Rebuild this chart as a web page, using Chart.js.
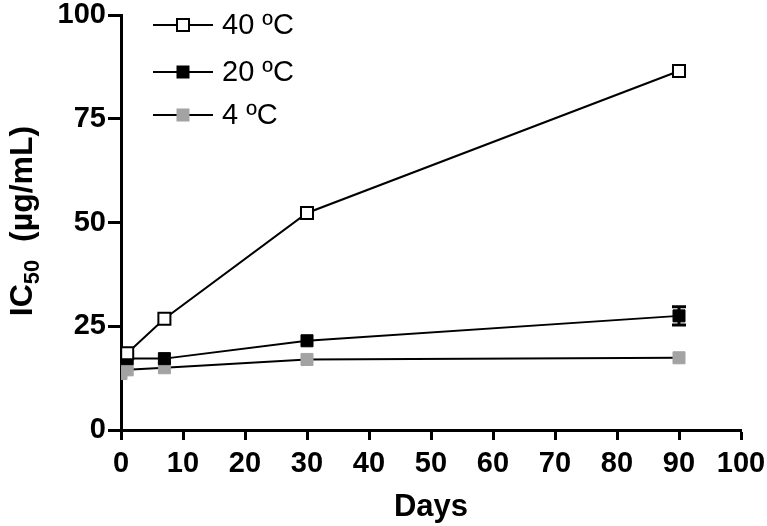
<!DOCTYPE html>
<html>
<head>
<meta charset="utf-8">
<script src="https://cdn.jsdelivr.net/npm/chart.js@4/dist/chart.umd.min.js"></script>
<style>
  html, body { margin: 0; padding: 0; background: #fff; }
  #wrap { width: 767px; height: 526px; }
</style>
</head>
<body>
<div id="wrap"><canvas id="chart" width="767" height="526"></canvas></div>
<script>
// Datos
const seriesNames = ["40 ºC", "20 ºC", "4 ºC"];
const days40 = [1, 7, 30, 90];
const ic40   = [18.5, 26.8, 52.3, 86.5];
const days20 = [1, 7, 30, 90];
const ic20   = [17.2, 17.2, 21.5, 27.5];
const err20  = [0, 0, 0, 2.2];
const days4  = [0, 1, 7, 30, 90];
const ic4    = [13.6, 14.5, 15.0, 17.0, 17.4];
const xTicks = [0, 10, 20, 30, 40, 50, 60, 70, 80, 90, 100];
const yTicks = [0, 25, 50, 75, 100];

const FONT = "'Liberation Sans', Arial, sans-serif";
const GRAY = "#a3a3a3";

// Paso arrays x/y a puntos
const pts = (xs, ys) => xs.map((x, i) => ({ x, y: ys[i] }));

// Barras de error (solo 20 ºC tiene)
const errorBars = {
  id: "errorBars",
  afterDatasetsDraw(chart) {
    const { ctx, scales } = chart;
    ctx.save();
    ctx.strokeStyle = "#000";
    ctx.lineWidth = 3;
    err20.forEach((e, i) => {
      if (!e) return;
      const x = scales.x.getPixelForValue(days20[i]);
      const yt = scales.y.getPixelForValue(ic20[i] + e);
      const yb = scales.y.getPixelForValue(ic20[i] - e);
      ctx.beginPath();
      ctx.moveTo(x, yt); ctx.lineTo(x, yb);
      ctx.moveTo(x - 7, yt); ctx.lineTo(x + 7, yt);
      ctx.moveTo(x - 7, yb); ctx.lineTo(x + 7, yb);
      ctx.stroke();
    });
    ctx.restore();
  }
};

// Título del eje Y con subíndice y leyenda dentro del área
const extras = {
  id: "extras",
  afterDraw(chart) {
    const { ctx } = chart;
    // Eje Y: IC50 (µg/mL)
    ctx.save();
    ctx.translate(32, 221);
    ctx.rotate(-Math.PI / 2);
    ctx.fillStyle = "#000";
    ctx.textBaseline = "alphabetic";
    const big = "bold 32px " + FONT, small = "bold 22px " + FONT;
    ctx.font = big; const w1 = ctx.measureText("IC").width;
    ctx.font = small; const w2 = ctx.measureText("50").width;
    ctx.font = big; const w3 = ctx.measureText("  (µg/mL)").width;
    let x0 = -(w1 + w2 + w3) / 2;
    ctx.font = big; ctx.fillText("IC", x0, 0); x0 += w1;
    ctx.font = small; ctx.fillText("50", x0, 7); x0 += w2;
    ctx.font = big; ctx.fillText("  (µg/mL)", x0, 0);
    ctx.restore();

    // Leyenda
    const rows = [25, 72, 115];
    ctx.save();
    chart.data.datasets.forEach((ds, i) => {
      const y = rows[i];
      ctx.strokeStyle = ds.borderColor;
      ctx.lineWidth = 2;
      ctx.beginPath(); ctx.moveTo(153, y); ctx.lineTo(213, y); ctx.stroke();
      ctx.fillStyle = ds.pointBackgroundColor;
      ctx.strokeStyle = ds.pointBorderColor;
      ctx.lineWidth = ds.pointBorderWidth;
      ctx.fillRect(177, y - 6, 12, 12);
      ctx.strokeRect(177, y - 6, 12, 12);
      ctx.fillStyle = "#000";
      ctx.font = "29px " + FONT;
      ctx.textBaseline = "middle";
      ctx.fillText(seriesNames[i], 222, y + 1);
    });
    ctx.restore();
  }
};

const common = { showLine: true, borderColor: "#000", borderWidth: 2, pointStyle: "rect", pointRadius: 8.5, pointHoverRadius: 8.5 };

new Chart(document.getElementById("chart"), {
  type: "scatter",
  data: {
    datasets: [
      { ...common, label: seriesNames[0], data: pts(days40, ic40), pointBackgroundColor: "#fff", pointBorderColor: "#000", pointBorderWidth: 2, order: 1 },
      { ...common, label: seriesNames[1], data: pts(days20, ic20), pointBackgroundColor: "#000", pointBorderColor: "#000", pointBorderWidth: 1, order: 2 },
      { ...common, label: seriesNames[2], data: pts(days4, ic4), pointBackgroundColor: GRAY, pointBorderColor: GRAY, pointBorderWidth: 1, order: 3 },
    ],
  },
  options: {
    responsive: false,
    animation: false,
    layout: { padding: { left: 0, top: 15, right: 26, bottom: 0 } },
    plugins: { legend: { display: false }, tooltip: { enabled: false } },
    scales: {
      x: {
        type: "linear", min: 0, max: 100,
        // alto fijo y sin relleno extra por las etiquetas de los extremos
        afterFit: (s) => { s.height = 96; s.paddingLeft = 0; s.paddingRight = 0; },
        afterBuildTicks: (s) => { s.ticks = xTicks.map((v) => ({ value: v })); },
        grid: { drawOnChartArea: false, drawTicks: true, tickLength: 10, tickWidth: 3, tickColor: "#000" },
        border: { display: true, color: "#000", width: 3 },
        ticks: { color: "#000", font: { family: FONT, size: 29, weight: "bold" }, padding: 7, maxRotation: 0 },
        title: { display: true, text: "Days", color: "#000", font: { family: FONT, size: 31, weight: "bold" }, padding: { top: 0, bottom: 0 } },
      },
      y: {
        type: "linear", min: 0, max: 100,
        afterFit: (s) => { s.width = 121; s.paddingTop = 0; s.paddingBottom = 0; },
        afterBuildTicks: (s) => { s.ticks = yTicks.map((v) => ({ value: v })); },
        grid: { drawOnChartArea: false, drawTicks: true, tickLength: 13, tickWidth: 3, tickColor: "#000" },
        border: { display: true, color: "#000", width: 3 },
        ticks: { color: "#000", font: { family: FONT, size: 29, weight: "bold" }, padding: 2 },
      },
    },
  },
  plugins: [errorBars, extras],
});
</script>
</body>
</html>
